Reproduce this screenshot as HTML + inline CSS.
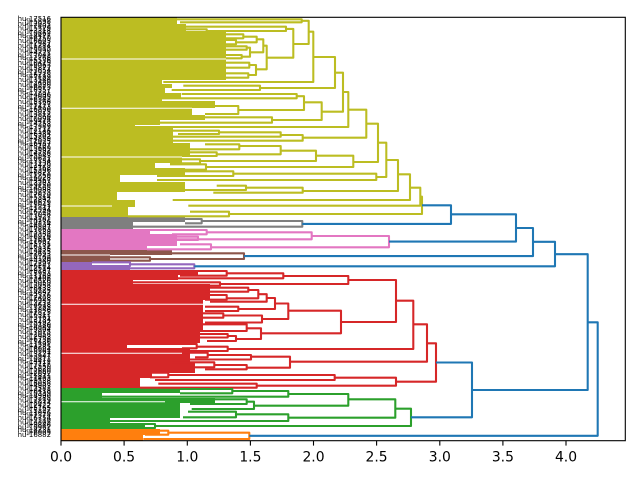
<!DOCTYPE html>
<html><head><meta charset="utf-8"><style>
html,body{margin:0;padding:0;background:#fff;}
svg{display:block;}
</style></head><body>
<svg width="640" height="480" viewBox="0 0 640 480" xmlns="http://www.w3.org/2000/svg">
<rect x="0" y="0" width="640" height="480" fill="#fff"/>
<!-- leaf blocks -->
<g fill="#bcbd22">
<rect x="61" y="17.3" width="116" height="6.7"/>
<rect x="61" y="24" width="125" height="7"/>
<rect x="61" y="31" width="165" height="49"/>
<rect x="61" y="80" width="101" height="4"/>
<rect x="61" y="84" width="111" height="4"/>
<rect x="61" y="88" width="104" height="5"/>
<rect x="61" y="93" width="120" height="5"/>
<rect x="61" y="98" width="101" height="3"/>
<rect x="61" y="101" width="154" height="7"/>
<rect x="61" y="108" width="131" height="7"/>
<rect x="61" y="115" width="144" height="5"/>
<rect x="61" y="120" width="99" height="5"/>
<rect x="61" y="125" width="74" height="3"/>
<rect x="61" y="128" width="112" height="15"/>
<rect x="61" y="143" width="129" height="14"/>
<rect x="61" y="157" width="121" height="6"/>
<rect x="61" y="163" width="94" height="5"/>
<rect x="61" y="168" width="124" height="7"/>
<rect x="61" y="175" width="59" height="7"/>
<rect x="61" y="182" width="124" height="10"/>
<rect x="61" y="192" width="56" height="8"/>
<rect x="61" y="200" width="74" height="7"/>
<rect x="61" y="207" width="67" height="10"/>
</g>
<g fill="#7f7f7f">
<rect x="61" y="217" width="124" height="5"/>
<rect x="61" y="222" width="72" height="7"/>
</g>
<g fill="#e377c2">
<rect x="61" y="229" width="89" height="5"/>
<rect x="61" y="234" width="116" height="12"/>
<rect x="61" y="246" width="86" height="4"/>
</g>
<g fill="#8c564b">
<rect x="61" y="250" width="111" height="5"/>
<rect x="61" y="255" width="49" height="7"/>
</g>
<g fill="#9467bd">
<rect x="61" y="262" width="31" height="4"/>
<rect x="61" y="266" width="69" height="4"/>
</g>
<g fill="#d62728">
<rect x="61" y="270" width="137" height="5"/>
<rect x="61" y="275" width="117" height="5"/>
<rect x="61" y="280" width="72" height="4"/>
<rect x="61" y="284" width="149" height="16"/>
<rect x="61" y="300" width="142" height="30"/>
<rect x="61" y="330" width="139" height="13"/>
<rect x="61" y="343" width="66" height="5"/>
<rect x="61" y="348" width="129" height="14"/>
<rect x="61" y="362" width="134" height="11"/>
<rect x="61" y="373" width="91" height="5"/>
<rect x="61" y="378" width="79" height="10"/>
</g>
<g fill="#2ca02c">
<rect x="61" y="388" width="119" height="5"/>
<rect x="61" y="393" width="41" height="5"/>
<rect x="61" y="398" width="154" height="5"/>
<rect x="61" y="403" width="119" height="15"/>
<rect x="61" y="418" width="49" height="5"/>
<rect x="61" y="423" width="84" height="6"/>
</g>
<g fill="#ff7f0e">
<rect x="61" y="429" width="99" height="6"/>
<rect x="61" y="435" width="82" height="5.7"/>
</g>
<!-- periodic white gaps -->
<g stroke="#fff" stroke-width="1">
<line x1="61" y1="59" x2="226" y2="59"/>
<line x1="61" y1="108.3" x2="192" y2="108.3"/>
<line x1="61" y1="157" x2="182" y2="157"/>
<line x1="61" y1="206" x2="112" y2="206"/>
<line x1="61" y1="255" x2="110" y2="255"/>
<line x1="61" y1="304.3" x2="203" y2="304.3"/>
<line x1="61" y1="353.3" x2="182" y2="353.3"/>
<line x1="61" y1="401.7" x2="165" y2="401.7"/>
</g>
<!-- links -->
<g fill="none" stroke-width="2.08" stroke-linejoin="round">
<g stroke="#bcbd22">
<path d="M177 19.3H301.7V22.3H180"/>
<path d="M301.7 20.8H308.7V44H293.3"/>
<path d="M186 26.7H286V31H206.7"/>
<path d="M186 29.3H206.7V32.7H186"/>
<path d="M286 28.9H293.3V57.7H266.7"/>
<path d="M263.3 45.7H266.7V69.3H256"/>
<path d="M256.7 39.3H263.3V52.3H250"/>
<path d="M243.3 36.7H256.7V42.3H236"/>
<path d="M226 34.3H243.3V38.3H226"/>
<path d="M226 40H236V44.3H226"/>
<path d="M246.7 47.7H250V56.7H241.7"/>
<path d="M226 46.3H246.7V49.7H226"/>
<path d="M226 55H241.7V58.3H226"/>
<path d="M249.3 65H256V75H248.3"/>
<path d="M226 62.7H249.3V67.7H226"/>
<path d="M226 73.3H248.3V77.7H226"/>
<path d="M308.7 31.7H313.3V82H163.3"/>
<path d="M313.3 57H335V88H260"/>
<path d="M183.3 85.7H260V90H171.7"/>
<path d="M335 72.7H343V111.7H321.7"/>
<path d="M304 102.3H321.7V120H272"/>
<path d="M296.7 96.2H304V110H238.3"/>
<path d="M181.7 94H296.7V98.3H158.3"/>
<path d="M215 106H238.3V114H205"/>
<path d="M195 117.3H272V122.7H160"/>
<path d="M343 92H348.3V127H135"/>
<path d="M348.3 109.7H366.3V137.7H302.7"/>
<path d="M280.7 135H302.7V140.7H171.7"/>
<path d="M219 132.3H280.7V136.7H172"/>
<path d="M173 130.7H219V134H178"/>
<path d="M366.3 123.7H378V162H353.3"/>
<path d="M316 155.7H353.3V167H206"/>
<path d="M280.7 150.7H316V161H200"/>
<path d="M239.3 146H280.7V154.3H216.7"/>
<path d="M205 144.3H239.3V149.3H185"/>
<path d="M185 152.3H216.7V156H185"/>
<path d="M182 159.3H200V163.3H170"/>
<path d="M170 164.3H206V169.7H155"/>
<path d="M378 142.7H386.3V177H376.3"/>
<path d="M233.3 173.7H376.3V180H157"/>
<path d="M180 171.3H233.3V176H157"/>
<path d="M386.3 160H398V191H302.7"/>
<path d="M246 187.7H302.7V192.7H213.3"/>
<path d="M216.7 185.7H246V190H185"/>
<path d="M398 174.3H410V200H172.7"/>
<path d="M410 187.7H420.3V205.7H188.3"/>
<path d="M420.3 196.7H422V214H229"/>
<path d="M190 211.7H229V216.3H128"/>
</g>
<g stroke="#7f7f7f">
<path d="M201.7 221H302.3V226.7H133"/>
<path d="M185 219H201.7V223.3H185"/>
</g>
<g stroke="#e377c2">
<path d="M311.7 236H389V247.3H211"/>
<path d="M206.7 232.3H311.7V239.3H176"/>
<path d="M150 230H206.7V234.3H172"/>
<path d="M180 244.3H211V249.3H147"/>
<path d="M172 236.7H198V240H172"/>
</g>
<g stroke="#8c564b">
<path d="M171.7 253.3H244V259H150"/>
<path d="M110 257.3H150V260.7H110"/>
</g>
<g stroke="#9467bd">
<path d="M130 264.3H194.3V268.3H130"/>
<path d="M92 262.3H130V266H92"/>
</g>
<g stroke="#d62728">
<path d="M427 343.3H436V381.7H396"/>
<path d="M413.3 324.3H427V361.7H290"/>
<path d="M396 300.7H413.3V349H227.7"/>
<path d="M348.3 280H396V322H341"/>
<path d="M283.3 276H348.3V284H220"/>
<path d="M226.7 273.3H283.3V278.3H178"/>
<path d="M198 271H226.7V275.7H180"/>
<path d="M133 282.3H220V285.7H200"/>
<path d="M288.3 310.7H341V333.3H261"/>
<path d="M275 303.5H288.3V319H262"/>
<path d="M266.7 298H275V309H238.3"/>
<path d="M258.3 294.2H266.7V301.7H210"/>
<path d="M248.3 290H258.3V298.3H226.7"/>
<path d="M210 287.7H248.3V291.7H205"/>
<path d="M205 295H226.7V299.7H205"/>
<path d="M205 306.7H238.3V311H205"/>
<path d="M223.3 315.5H262V322.5H205"/>
<path d="M200 313.3H223.3V317.7H200"/>
<path d="M246.7 328.3H261V339H236"/>
<path d="M200 324.3H246.7V331H195"/>
<path d="M227.7 336H236V341H207"/>
<path d="M200 334H227.7V337.5H200"/>
<path d="M196.7 346.7H227.7V351H182"/>
<path d="M127 344H196.7V348.3H182"/>
<path d="M251 356.7H290V367.7H246.7"/>
<path d="M207.7 355H251V359.5H190"/>
<path d="M182 352.7H207.7V357.3H195"/>
<path d="M214.3 365H246.7V369.3H205"/>
<path d="M172 362.3H214.3V367.3H195"/>
<path d="M334.7 377.7H396V385.7H256.7"/>
<path d="M168.3 375H334.7V380H155"/>
<path d="M152 372.7H168.3V377.3H150"/>
<path d="M158.3 383.7H256.7V387.7H140"/>
</g>
<g stroke="#2ca02c">
<path d="M395.3 408.7H411V426H155"/>
<path d="M348.3 399.3H395.3V417.7H288.3"/>
<path d="M288.3 394H348.3V405.7H254"/>
<path d="M232.3 391H288.3V396.7H101.7"/>
<path d="M180 389H232.3V393.3H180"/>
<path d="M246.7 401.7H254V409H191.7"/>
<path d="M215 399.3H246.7V404H190"/>
<path d="M236 414.3H288.3V421H110"/>
<path d="M188 411.7H236V417.3H183"/>
<path d="M145 424H155V428H145"/>
</g>
<g stroke="#ff7f0e">
<path d="M168.3 432.7H249.3V439H143.3"/>
<path d="M152 430.7H168.3V434.7H145"/>
</g>
<g stroke="#1f77b4">
<path d="M587.7 322.3H597.7V435.8H249.3"/>
<path d="M555 254.2H587.7V390H472"/>
<path d="M436 362.5H472V417.3H411"/>
<path d="M533 241.8H555V266.3H194.3"/>
<path d="M516 228H533V256.1H244"/>
<path d="M451 214.3H516V241.6H389"/>
<path d="M422 205.3H451V223.9H302.3"/>
</g>
</g>
<!-- frame -->
<rect x="61" y="17.3" width="564.3" height="423.4" fill="none" stroke="#000" stroke-width="1.1"/>
<!-- x ticks -->
<g stroke="#000" stroke-width="1.1">
<line x1="61" y1="440.7" x2="61" y2="445.6"/>
<line x1="124.1" y1="440.7" x2="124.1" y2="445.6"/>
<line x1="187.3" y1="440.7" x2="187.3" y2="445.6"/>
<line x1="250.4" y1="440.7" x2="250.4" y2="445.6"/>
<line x1="313.5" y1="440.7" x2="313.5" y2="445.6"/>
<line x1="376.6" y1="440.7" x2="376.6" y2="445.6"/>
<line x1="439.8" y1="440.7" x2="439.8" y2="445.6"/>
<line x1="502.9" y1="440.7" x2="502.9" y2="445.6"/>
<line x1="566" y1="440.7" x2="566" y2="445.6"/>
</g>
<g font-family="'DejaVu Sans','Liberation Sans',sans-serif" font-size="13.9" fill="#000" text-anchor="middle">
<text x="61" y="461.7">0.0</text>
<text x="124.1" y="461.7">0.5</text>
<text x="187.3" y="461.7">1.0</text>
<text x="250.4" y="461.7">1.5</text>
<text x="313.5" y="461.7">2.0</text>
<text x="376.6" y="461.7">2.5</text>
<text x="439.8" y="461.7">3.0</text>
<text x="502.9" y="461.7">3.5</text>
<text x="566" y="461.7">4.0</text>
</g>
<!-- leaf labels -->
<text font-family="'DejaVu Sans','Liberation Sans',sans-serif" font-size="6.94" fill="#000" text-anchor="end" y="18.5"><tspan x="51" dy="2.4">hu-17516</tspan><tspan x="51" dy="2.4474">nl-5898</tspan><tspan x="51" dy="2.4474">hu-12031</tspan><tspan x="51" dy="2.4474">nl-7402</tspan><tspan x="51" dy="2.4474">hu-15529</tspan><tspan x="51" dy="2.4474">nl-3318</tspan><tspan x="51" dy="2.4474">hu-10862</tspan><tspan x="51" dy="2.4474">hu-14477</tspan><tspan x="51" dy="2.4474">nl-6150</tspan><tspan x="51" dy="2.4474">hu-16603</tspan><tspan x="51" dy="2.4474">nl-2947</tspan><tspan x="51" dy="2.4474">hu-11284</tspan><tspan x="51" dy="2.4474">nl-8815</tspan><tspan x="51" dy="2.4474">hu-13390</tspan><tspan x="51" dy="2.4474">nl-4721</tspan><tspan x="51" dy="2.4474">hu-17042</tspan><tspan x="51" dy="2.4474">hu-12768</tspan><tspan x="51" dy="2.4474">nl-5536</tspan><tspan x="51" dy="2.4474">hu-10419</tspan><tspan x="51" dy="2.4474">nl-9063</tspan><tspan x="51" dy="2.4474">hu-15877</tspan><tspan x="51" dy="2.4474">nl-3654</tspan><tspan x="51" dy="2.4474">hu-11938</tspan><tspan x="51" dy="2.4474">hu-16215</tspan><tspan x="51" dy="2.4474">nl-7189</tspan><tspan x="51" dy="2.4474">hu-13546</tspan><tspan x="51" dy="2.4474">nl-2480</tspan><tspan x="51" dy="2.4474">hu-14920</tspan><tspan x="51" dy="2.4474">nl-6673</tspan><tspan x="51" dy="2.4474">hu-10357</tspan><tspan x="51" dy="2.4474">hu-17731</tspan><tspan x="51" dy="2.4474">nl-4096</tspan><tspan x="51" dy="2.4474">hu-12605</tspan><tspan x="51" dy="2.4474">nl-8342</tspan><tspan x="51" dy="2.4474">hu-15168</tspan><tspan x="51" dy="2.4474">nl-5277</tspan><tspan x="51" dy="2.4474">hu-11473</tspan><tspan x="51" dy="2.4474">hu-16890</tspan><tspan x="51" dy="2.4474">nl-3025</tspan><tspan x="51" dy="2.4474">hu-13812</tspan><tspan x="51" dy="2.4474">nl-7560</tspan><tspan x="51" dy="2.4474">hu-10094</tspan><tspan x="51" dy="2.4474">nl-9418</tspan><tspan x="51" dy="2.4474">hu-14253</tspan><tspan x="51" dy="2.4474">hu-17389</tspan><tspan x="51" dy="2.4474">nl-2711</tspan><tspan x="51" dy="2.4474">hu-12146</tspan><tspan x="51" dy="2.4474">nl-6384</tspan><tspan x="51" dy="2.4474">hu-15702</tspan><tspan x="51" dy="2.4474">nl-4859</tspan><tspan x="51" dy="2.4474">hu-11025</tspan><tspan x="51" dy="2.4474">hu-16437</tspan><tspan x="51" dy="2.4474">nl-8107</tspan><tspan x="51" dy="2.4474">hu-13669</tspan><tspan x="51" dy="2.4474">nl-3592</tspan><tspan x="51" dy="2.4474">hu-14788</tspan><tspan x="51" dy="2.4474">nl-5943</tspan><tspan x="51" dy="2.4474">hu-10631</tspan><tspan x="51" dy="2.4474">hu-17154</tspan><tspan x="51" dy="2.4474">nl-7236</tspan><tspan x="51" dy="2.4474">hu-12479</tspan><tspan x="51" dy="2.4474">nl-2168</tspan><tspan x="51" dy="2.4474">hu-15396</tspan><tspan x="51" dy="2.4474">nl-6821</tspan><tspan x="51" dy="2.4474">hu-11750</tspan><tspan x="51" dy="2.4474">hu-16028</tspan><tspan x="51" dy="2.4474">nl-4467</tspan><tspan x="51" dy="2.4474">hu-13203</tspan><tspan x="51" dy="2.4474">nl-9750</tspan><tspan x="51" dy="2.4474">hu-14565</tspan><tspan x="51" dy="2.4474">hu-10988</tspan><tspan x="51" dy="2.4474">nl-3873</tspan><tspan x="51" dy="2.4474">hu-17620</tspan><tspan x="51" dy="2.4474">nl-5314</tspan><tspan x="51" dy="2.4474">hu-12892</tspan><tspan x="51" dy="2.4474">nl-8679</tspan><tspan x="51" dy="2.4474">hu-15041</tspan><tspan x="51" dy="2.4474">hu-11317</tspan><tspan x="51" dy="2.4474">nl-2594</tspan><tspan x="51" dy="2.4474">hu-16749</tspan><tspan x="51" dy="2.4474">nl-7048</tspan><tspan x="51" dy="2.4474">hu-13927</tspan><tspan x="51" dy="2.4474">nl-4182</tspan><tspan x="51" dy="2.4474">hu-10276</tspan><tspan x="51" dy="2.4474">hu-14334</tspan><tspan x="51" dy="2.4474">nl-6507</tspan><tspan x="51" dy="2.4474">hu-17863</tspan><tspan x="51" dy="2.4474">nl-3139</tspan><tspan x="51" dy="2.4474">hu-12358</tspan><tspan x="51" dy="2.4474">nl-8926</tspan><tspan x="51" dy="2.4474">hu-15614</tspan><tspan x="51" dy="2.4474">hu-11602</tspan><tspan x="51" dy="2.4474">nl-5781</tspan><tspan x="51" dy="2.4474">hu-16172</tspan><tspan x="51" dy="2.4474">nl-2835</tspan><tspan x="51" dy="2.4474">hu-13475</tspan><tspan x="51" dy="2.4474">nl-7693</tspan><tspan x="51" dy="2.4474">hu-10743</tspan><tspan x="51" dy="2.4474">hu-14106</tspan><tspan x="51" dy="2.4474">nl-4340</tspan><tspan x="51" dy="2.4474">hu-17297</tspan><tspan x="51" dy="2.4474">nl-6262</tspan><tspan x="51" dy="2.4474">hu-12514</tspan><tspan x="51" dy="2.4474">nl-9187</tspan><tspan x="51" dy="2.4474">hu-15953</tspan><tspan x="51" dy="2.4474">hu-11169</tspan><tspan x="51" dy="2.4474">nl-3406</tspan><tspan x="51" dy="2.4474">hu-16526</tspan><tspan x="51" dy="2.4474">nl-5059</tspan><tspan x="51" dy="2.4474">hu-13058</tspan><tspan x="51" dy="2.4474">nl-8433</tspan><tspan x="51" dy="2.4474">hu-10525</tspan><tspan x="51" dy="2.4474">hu-14697</tspan><tspan x="51" dy="2.4474">nl-2376</tspan><tspan x="51" dy="2.4474">hu-17408</tspan><tspan x="51" dy="2.4474">nl-6945</tspan><tspan x="51" dy="2.4474">hu-12237</tspan><tspan x="51" dy="2.4474">nl-4618</tspan><tspan x="51" dy="2.4474">hu-15285</tspan><tspan x="51" dy="2.4474">hu-11846</tspan><tspan x="51" dy="2.4474">nl-7825</tspan><tspan x="51" dy="2.4474">hu-16311</tspan><tspan x="51" dy="2.4474">nl-3761</tspan><tspan x="51" dy="2.4474">hu-13734</tspan><tspan x="51" dy="2.4474">nl-5492</tspan><tspan x="51" dy="2.4474">hu-10180</tspan><tspan x="51" dy="2.4474">hu-14849</tspan><tspan x="51" dy="2.4474">nl-9304</tspan><tspan x="51" dy="2.4474">hu-17075</tspan><tspan x="51" dy="2.4474">nl-2058</tspan><tspan x="51" dy="2.4474">hu-12963</tspan><tspan x="51" dy="2.4474">nl-6736</tspan><tspan x="51" dy="2.4474">hu-15436</tspan><tspan x="51" dy="2.4474">hu-11591</tspan><tspan x="51" dy="2.4474">nl-4285</tspan><tspan x="51" dy="2.4474">hu-16984</tspan><tspan x="51" dy="2.4474">nl-8561</tspan><tspan x="51" dy="2.4474">hu-13127</tspan><tspan x="51" dy="2.4474">nl-3947</tspan><tspan x="51" dy="2.4474">hu-10812</tspan><tspan x="51" dy="2.4474">hu-14412</tspan><tspan x="51" dy="2.4474">nl-7117</tspan><tspan x="51" dy="2.4474">hu-17550</tspan><tspan x="51" dy="2.4474">nl-5620</tspan><tspan x="51" dy="2.4474">hu-12680</tspan><tspan x="51" dy="2.4474">nl-2692</tspan><tspan x="51" dy="2.4474">hu-15811</tspan><tspan x="51" dy="2.4474">hu-11403</tspan><tspan x="51" dy="2.4474">nl-9538</tspan><tspan x="51" dy="2.4474">hu-16058</tspan><tspan x="51" dy="2.4474">nl-4903</tspan><tspan x="51" dy="2.4474">hu-13581</tspan><tspan x="51" dy="2.4474">nl-6418</tspan><tspan x="51" dy="2.4474">hu-10339</tspan><tspan x="51" dy="2.4474">hu-14990</tspan><tspan x="51" dy="2.4474">nl-3285</tspan><tspan x="51" dy="2.4474">hu-17219</tspan><tspan x="51" dy="2.4474">nl-8074</tspan><tspan x="51" dy="2.4474">hu-12422</tspan><tspan x="51" dy="2.4474">nl-5165</tspan><tspan x="51" dy="2.4474">hu-15127</tspan><tspan x="51" dy="2.4474">hu-11076</tspan><tspan x="51" dy="2.4474">nl-7374</tspan><tspan x="51" dy="2.4474">hu-16754</tspan><tspan x="51" dy="2.4474">nl-2219</tspan><tspan x="51" dy="2.4474">hu-13305</tspan><tspan x="51" dy="2.4474">nl-9846</tspan><tspan x="51" dy="2.4474">hu-10962</tspan><tspan x="51" dy="2.4474">hu-14231</tspan><tspan x="51" dy="2.4474">nl-6009</tspan><tspan x="51" dy="2.4474">hu-16882</tspan></text>
</svg>
</body></html>
